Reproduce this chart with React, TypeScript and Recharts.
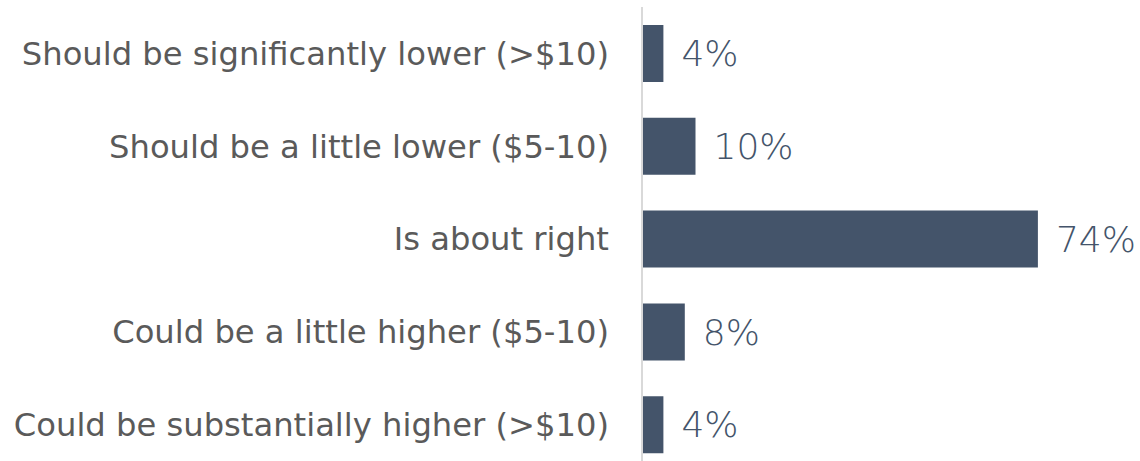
import React from 'react';
import { BarChart, Bar, XAxis, YAxis, LabelList } from 'recharts';

const categories = [
  'Should be significantly lower (>$10)',
  'Should be a little lower ($5-10)',
  'Is about right',
  'Could be a little higher ($5-10)',
  'Could be substantially higher (>$10)',
];
const values = [4, 10, 74, 8, 4];

const data = categories.map((c, i) => ({ name: c, value: values[i] }));

const FONT = '"DejaVu Sans", sans-serif';
const LIGHT_FONT = '"DejaVu Sans ExtraLight", "DejaVu Sans", sans-serif';

export default function App() {
  return (
    <div style={{ position: 'absolute', left: 0, top: 0, width: 1140, height: 461, overflow: 'hidden', background: '#fff' }}>
      <BarChart
        width={1140}
        height={471}
        data={data}
        layout="vertical"
        margin={{ top: 7, right: 70, bottom: 0, left: 0 }}
        barCategoryGap={0}
      >
        <XAxis type="number" domain={[0, 80]} hide />
        <YAxis
          type="category"
          dataKey="name"
          width={642}
          axisLine={{ stroke: '#d9d9d9', strokeWidth: 2 }}
          tickLine={false}
          tickSize={0}
          tickMargin={33}
          interval={0}
          tick={{ fill: '#5a5a5a', fontSize: 32.2, fontFamily: FONT }}
        />
        <Bar dataKey="value" fill="#44546a" barSize={57} isAnimationActive={false}>
          <LabelList
            dataKey="value"
            position="right"
            offset={18}
            formatter={(v: number) => `${v}%`}
            style={{ fill: '#44546a', fontSize: 36, fontFamily: LIGHT_FONT, fontWeight: 200 }}
          />
        </Bar>
      </BarChart>
    </div>
  );
}
